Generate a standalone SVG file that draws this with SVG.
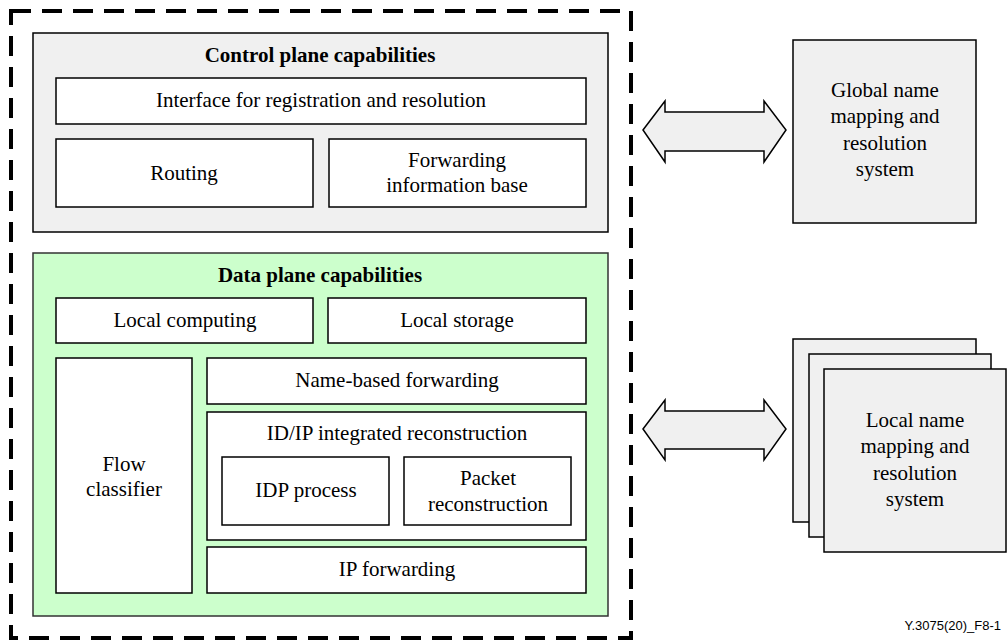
<svg xmlns="http://www.w3.org/2000/svg" width="1008" height="640" viewBox="0 0 1008 640">
<rect x="0" y="0" width="1008" height="640" fill="#fff"/>
<g id="outer">
<rect x="11" y="11" width="620" height="627" fill="none" stroke="#000" stroke-width="4" stroke-dasharray="20,11"/>
</g>
<g id="control-plane">
<rect fill="#f0f0f0" stroke="#000" stroke-width="1.5" x="33" y="33" width="575" height="199"/>
<text font-family="Times New Roman" font-size="21" font-weight="bold" text-anchor="middle" x="320" y="62">Control plane capabilities</text>
</g>
<g id="interface">
<rect fill="#fff" stroke="#000" stroke-width="1.5" x="56" y="78" width="530" height="46"/>
<text font-family="Times New Roman" font-size="21" text-anchor="middle" x="321" y="107">Interface for registration and resolution</text>
</g>
<g id="routing">
<rect fill="#fff" stroke="#000" stroke-width="1.5" x="56" y="139" width="257" height="68"/>
<text font-family="Times New Roman" font-size="21" text-anchor="middle" x="184" y="180">Routing</text>
</g>
<g id="fib">
<rect fill="#fff" stroke="#000" stroke-width="1.5" x="329" y="139" width="257" height="68"/>
<text font-family="Times New Roman" font-size="21" text-anchor="middle" x="457" y="167">Forwarding</text>
<text font-family="Times New Roman" font-size="21" text-anchor="middle" x="457" y="192">information base</text>
</g>
<g id="data-plane">
<rect fill="#ccffcc" stroke="#333" stroke-width="1.5" x="33" y="253" width="575" height="363"/>
<text font-family="Times New Roman" font-size="21" font-weight="bold" text-anchor="middle" x="320" y="282">Data plane capabilities</text>
</g>
<g id="local-computing">
<rect fill="#fff" stroke="#000" stroke-width="1.5" x="56" y="298" width="257" height="45"/>
<text font-family="Times New Roman" font-size="21" text-anchor="middle" x="185" y="327">Local computing</text>
</g>
<g id="local-storage">
<rect fill="#fff" stroke="#000" stroke-width="1.5" x="328" y="298" width="258" height="45"/>
<text font-family="Times New Roman" font-size="21" text-anchor="middle" x="457" y="327">Local storage</text>
</g>
<g id="flow-classifier">
<rect fill="#fff" stroke="#000" stroke-width="1.5" x="56" y="358" width="136" height="235"/>
<text font-family="Times New Roman" font-size="21" text-anchor="middle" x="124" y="471">Flow</text>
<text font-family="Times New Roman" font-size="21" text-anchor="middle" x="124" y="496">classifier</text>
</g>
<g id="name-forwarding">
<rect fill="#fff" stroke="#000" stroke-width="1.5" x="207" y="358" width="379" height="46"/>
<text font-family="Times New Roman" font-size="21" text-anchor="middle" x="397" y="387">Name-based forwarding</text>
</g>
<g id="idip">
<rect fill="#fff" stroke="#000" stroke-width="1.5" x="207" y="412" width="379" height="128"/>
<text font-family="Times New Roman" font-size="21" text-anchor="middle" x="397" y="440">ID/IP integrated reconstruction</text>
</g>
<g id="idp-process">
<rect fill="#fff" stroke="#000" stroke-width="1.5" x="222" y="457" width="167" height="68"/>
<text font-family="Times New Roman" font-size="21" text-anchor="middle" x="306" y="497">IDP process</text>
</g>
<g id="packet-reconstruction">
<rect fill="#fff" stroke="#000" stroke-width="1.5" x="404" y="457" width="167" height="68"/>
<text font-family="Times New Roman" font-size="21" text-anchor="middle" x="488" y="485">Packet</text>
<text font-family="Times New Roman" font-size="21" text-anchor="middle" x="488" y="511">reconstruction</text>
</g>
<g id="ip-forwarding">
<rect fill="#fff" stroke="#000" stroke-width="1.5" x="207" y="547" width="379" height="46"/>
<text font-family="Times New Roman" font-size="21" text-anchor="middle" x="397" y="576">IP forwarding</text>
</g>
<g id="global-system">
<rect fill="#f0f0f0" stroke="#000" stroke-width="1.5" x="793" y="40" width="183" height="183"/>
<text font-family="Times New Roman" font-size="21" text-anchor="middle" x="885" y="97">Global name</text>
<text font-family="Times New Roman" font-size="21" text-anchor="middle" x="885" y="123">mapping and</text>
<text font-family="Times New Roman" font-size="21" text-anchor="middle" x="885" y="150">resolution</text>
<text font-family="Times New Roman" font-size="21" text-anchor="middle" x="885" y="176">system</text>
</g>
<g id="local-system">
<rect fill="#f0f0f0" stroke="#000" stroke-width="1.5" x="793" y="339" width="183" height="183"/>
<rect fill="#f0f0f0" stroke="#000" stroke-width="1.5" x="809" y="354" width="182" height="183"/>
<rect fill="#f0f0f0" stroke="#000" stroke-width="1.5" x="824" y="369" width="182" height="183"/>
<text font-family="Times New Roman" font-size="21" text-anchor="middle" x="915" y="427">Local name</text>
<text font-family="Times New Roman" font-size="21" text-anchor="middle" x="915" y="453">mapping and</text>
<text font-family="Times New Roman" font-size="21" text-anchor="middle" x="915" y="480">resolution</text>
<text font-family="Times New Roman" font-size="21" text-anchor="middle" x="915" y="506">system</text>
</g>
<g id="connectors">
<path fill="#f0f0f0" stroke="#000" stroke-width="1.5" d="M643,130 L665,101 L665,112 L764,112 L764,101 L786,130 L764,162 L764,151 L665,151 L665,162 Z"/>
<path fill="#f0f0f0" stroke="#000" stroke-width="1.5" d="M643,429 L665,400 L665,411 L764,411 L764,400 L786,429 L764,460 L764,449 L665,449 L665,460 Z"/>
</g>
<text x="1001" y="630" font-family="Liberation Sans" font-size="13" text-anchor="end" fill="#000">Y.3075(20)_F8-1</text>
</svg>
